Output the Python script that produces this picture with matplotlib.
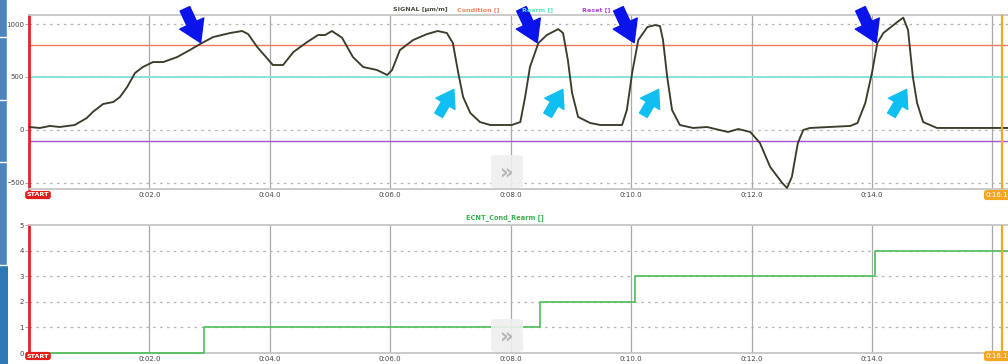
import matplotlib
matplotlib.use("Agg")
import matplotlib.pyplot as plt
from matplotlib.patches import Rectangle, FancyBboxPatch

# --- data ---
SIG_T = [0.00, 0.18, 0.35, 0.51, 0.76, 0.96, 1.06, 1.23, 1.40, 1.51, 1.63, 1.76, 1.89,
         2.06, 2.23, 2.46, 2.67, 2.87, 3.06, 3.34, 3.54, 3.64, 3.79, 3.95, 4.05, 4.22,
         4.39, 4.62, 4.80, 4.92, 5.03, 5.20, 5.38, 5.55, 5.78, 5.95, 6.03, 6.16, 6.38,
         6.61, 6.79, 6.94, 7.04, 7.13, 7.21, 7.33, 7.49, 7.66, 8.02, 8.16, 8.24, 8.32,
         8.46, 8.60, 8.79, 8.87, 8.95, 9.02, 9.12, 9.32, 9.49, 9.85, 9.93, 10.02, 10.12,
         10.27, 10.40, 10.48, 10.53, 10.60, 10.68, 10.81, 11.03, 11.26, 11.61, 11.78,
         11.98, 12.14, 12.31, 12.51, 12.59, 12.67, 12.77, 12.86, 12.97, 13.64, 13.76,
         13.89, 14.00, 14.09, 14.19, 14.42, 14.52, 14.60, 14.68, 14.75, 14.85, 15.08, 16.26]
SIG_V = [28, 19, 38, 28, 47, 113, 170, 245, 264, 311, 405, 537, 594,
         641, 641, 688, 754, 820, 877, 915, 934, 905, 783, 679, 613, 613,
         735, 830, 896, 896, 934, 870, 688, 594, 566, 519, 566, 754, 849,
         905, 934, 915, 820, 537, 311, 160, 75, 47, 47, 75, 311, 594,
         820, 896, 952, 915, 660, 349, 123, 66, 47, 47, 189, 547, 849,
         971, 990, 981, 849, 500, 189, 47, 19, 28, -19, 9,
         -19, -123, -349, -500, -547, -443, -123, 0, 19, 38, 66,
         255, 537, 820, 915, 1018, 1060, 943, 500, 255, 75, 19, 19]

CONDITION = 800
REARM = 500
RESET = -100

CNT_T = [0.0, 2.91, 8.48, 10.07, 14.05, 16.26]
CNT_V = [0, 1, 2, 3, 4, 4]

COND_HITS = [2.87, 8.46, 10.07, 14.09]      # dark blue arrows
REARM_HITS = [7.08, 8.89, 10.48, 14.60]      # light blue arrows
REARM_ARROW_V = 405

CURSOR_T = 16.16
X_TICKS = [2, 4, 6, 8, 10, 12, 14, 16]
X_LABELS = ["0:02.0", "0:04.0", "0:06.0", "0:08.0", "0:10.0", "0:12.0", "0:14.0", ""]

W, H = 1008, 364
fig = plt.figure(figsize=(W / 100, H / 100), dpi=100)
fig.patch.set_facecolor("white")


def fx(px):
    return px / W


def fy(py):
    return 1 - py / H


# left blue strip
fig.patches.append(Rectangle((0, 0), fx(8), 1, transform=fig.transFigure,
                             facecolor="#2f78b6", edgecolor="none"))
fig.patches.append(Rectangle((0, fy(265)), fx(7), fy(0) - fy(265), transform=fig.transFigure,
                             facecolor="#4a86bd", edgecolor="none"))
for py in [37, 100, 162, 265]:
    fig.add_artist(plt.Line2D([0, fx(7)], [fy(py), fy(py)], transform=fig.transFigure,
                              color="white", lw=1))
fig.add_artist(plt.Line2D([fx(7), fx(7)], [fy(265), 1], transform=fig.transFigure,
                          color="white", lw=1))

ax1 = fig.add_axes([fx(29), fy(189), 1 - fx(29), fy(15) - fy(189)])
ax2 = fig.add_axes([fx(29), fy(353), 1 - fx(29), fy(225) - fy(353)])

for ax in (ax1, ax2):
    ax.set_xlim(0, 16.26)
    ax.set_xticks(X_TICKS)
    ax.set_xticklabels(X_LABELS)
    ax.tick_params(axis="x", length=0, pad=2, labelsize=5, colors="#444")
    ax.tick_params(axis="y", length=3, width=0.6, color="#999", pad=0.5, labelsize=5,
                   labelcolor="#444")
    for t in X_TICKS:
        ax.axvline(t, color="#a9a9a9", lw=0.9, zorder=1)
    for s in ("top", "bottom"):
        ax.spines[s].set_color("#c6c6c6")
        ax.spines[s].set_linewidth(1.3)
    ax.spines["right"].set_visible(False)
    ax.spines["left"].set_color("#e52222")
    ax.spines["left"].set_linewidth(2)
    ax.axvline(CURSOR_T, color="#f5a623", lw=1.6, zorder=4)

# top panel
ax1.set_ylim(-557, 1085)
ax1.set_yticks([-500, 0, 500, 1000])
for v in [-500, 0, 500, 1000]:
    ax1.axhline(v, color="#b3b3b3", lw=0.9, ls=(0, (2, 3.5)), zorder=1)
ax1.axhline(CONDITION, color="#ec7a5e", lw=1.0, zorder=2)
ax1.axhline(REARM, color="#86e3d6", lw=1.4, zorder=2)
ax1.axhline(RESET, color="#a551d3", lw=1.0, zorder=2)
ax1.plot(SIG_T, SIG_V, color="#3c3c2c", lw=1.35, zorder=3, solid_joinstyle="round")

for t in COND_HITS:
    ax1.annotate("", xy=(t, CONDITION), xytext=(-13, 28), textcoords="offset points",
                 arrowprops=dict(arrowstyle="simple,head_length=0.8,head_width=1.0,tail_width=0.4",
                                 color="#0a14ea", mutation_scale=19), zorder=6)
for t in REARM_HITS:
    ax1.annotate("", xy=(t, REARM_ARROW_V), xytext=(-13, -22), textcoords="offset points",
                 arrowprops=dict(arrowstyle="simple,head_length=0.75,head_width=1.0,tail_width=0.4",
                                 color="#10bff2", mutation_scale=16), zorder=6)

# bottom panel
ax2.set_ylim(0, 5)
ax2.set_yticks([0, 1, 2, 3, 4, 5])
for v in [1, 2, 3, 4]:
    ax2.axhline(v, color="#b3b3b3", lw=0.9, ls=(0, (2, 3.5)), zorder=1)
ax2.step(CNT_T, CNT_V, where="post", color="#4cbf58", lw=1.2, zorder=3, clip_on=False)

# headers
hdr_y = fy(10)
for x, txt, col in [(393, "SIGNAL [µm/m]", "#4a4a3a"), (457, "Condition []", "#f08a5c"),
                    (522, "Rearm []", "#5fe3c8"), (582, "Reset []", "#b048d8")]:
    fig.text(fx(x), hdr_y, txt, color=col, fontsize=4.6, fontweight="bold", va="center", zorder=1)
fig.text(fx(505), fy(218), "ECNT_Cond_Rearm []", color="#38b54a", fontsize=4.8,
         fontweight="bold", ha="center", va="center")

# badges
for py in (195, 356):
    fig.text(fx(38), fy(py), "START", color="white", fontsize=4.6, fontweight="bold",
             ha="center", va="center",
             bbox=dict(boxstyle="round,pad=0.25,rounding_size=0.4", fc="#e51c1c", ec="none"))
    fig.text(fx(986), fy(py), "0:16.1", color="white", fontsize=5, ha="left", va="center",
             bbox=dict(boxstyle="round,pad=0.3,rounding_size=0.4", fc="#f5a623", ec="none"))

# "»" scroll buttons
for top in (155, 319):
    fig.patches.append(FancyBboxPatch((fx(491), fy(top + 33)), fx(32), fy(top) - fy(top + 33),
                                      boxstyle="round,pad=0,rounding_size=0.006",
                                      transform=fig.transFigure, facecolor="#efefef",
                                      edgecolor="none", alpha=0.9, zorder=5))
    fig.text(fx(507), fy(top + 17), "»", color="#b5b5b5", fontsize=15, fontweight="bold",
             ha="center", va="center", zorder=6)

fig.savefig("out.png", dpi=100)
